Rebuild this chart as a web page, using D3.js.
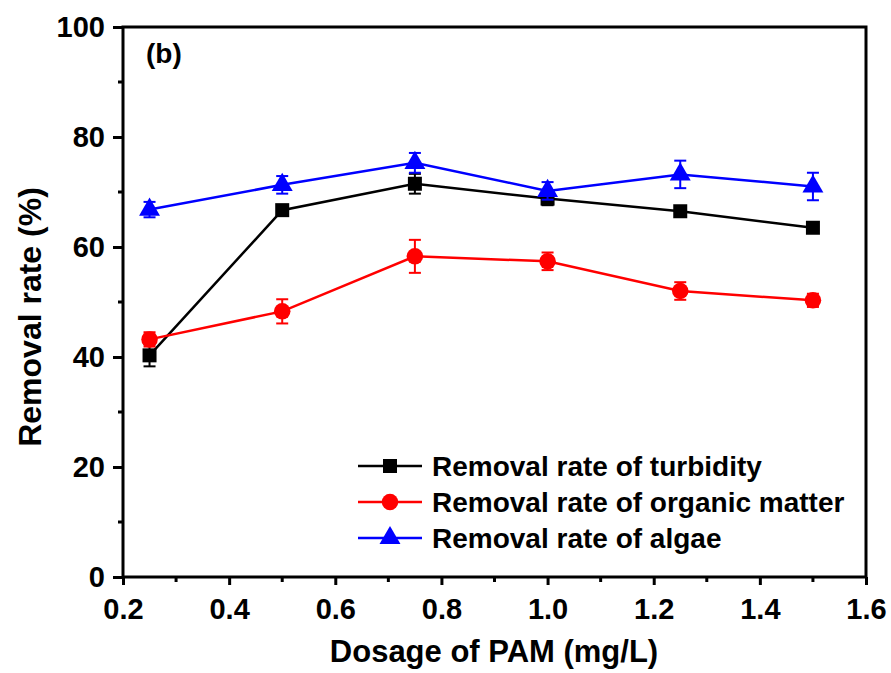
<!DOCTYPE html>
<html>
<head>
<meta charset="utf-8">
<script src="https://cdn.jsdelivr.net/npm/d3@7"></script>
<style>
  body { margin: 0; background: #fff; }
  text { font-family: "Liberation Sans", Arial, sans-serif; font-weight: bold; }
</style>
</head>
<body>
<script>
// data
var dosage = [0.25, 0.5, 0.75, 1.0, 1.25, 1.5];
var turbidity = [40.3, 66.7, 71.5, 68.8, 66.5, 63.5];
var turbidityErr = [2.0, 0.8, 1.8, 1.2, 0.8, 0.6];
var organic = [43.2, 48.3, 58.3, 57.4, 52.0, 50.3];
var organicErr = [1.3, 2.2, 3.0, 1.6, 1.6, 1.2];
var algae = [66.8, 71.3, 75.3, 70.2, 73.2, 71.0];
var algaeErr = [1.4, 1.6, 1.8, 1.6, 2.5, 2.5];
var seriesNames = ["Removal rate of turbidity", "Removal rate of organic matter", "Removal rate of algae"];
var xTicks = [0.2, 0.4, 0.6, 0.8, 1.0, 1.2, 1.4, 1.6];
var yTicks = [0, 20, 40, 60, 80, 100];

var w = 891, h = 673;
var padL = 123, padR = 866, padT = 27, padB = 577;

var svg = d3.select("body").append("svg")
  .attr("width", w)
  .attr("height", h);

var x = d3.scaleLinear().domain([0.2, 1.6]).range([padL, padR]);
var y = d3.scaleLinear().domain([0, 100]).range([padB, padT]);

var series = [
  {name: seriesNames[0], vals: turbidity, err: turbidityErr, color: "#000000", shape: d3.symbolSquare, size: 196},
  {name: seriesNames[1], vals: organic, err: organicErr, color: "#ff0000", shape: d3.symbolCircle, size: 215},
  {name: seriesNames[2], vals: algae, err: algaeErr, color: "#0000ff", shape: d3.symbolTriangle, size: 190}
];

// axes
var xAxis = d3.axisBottom(x).tickValues(xTicks).tickFormat(d3.format(".1f")).tickSize(8).tickPadding(13);
var yAxis = d3.axisLeft(y).tickValues(yTicks).tickFormat(d3.format("d")).tickSize(10).tickPadding(8);

var gx = svg.append("g").attr("transform", "translate(0," + padB + ")").call(xAxis);
var gy = svg.append("g").attr("transform", "translate(" + padL + ",0)").call(yAxis);

// minor ticks
var xMinor = [0.3, 0.5, 0.7, 0.9, 1.1, 1.3, 1.5];
svg.selectAll(".xminor").data(xMinor).enter().append("line")
  .attr("x1", d => x(d)).attr("x2", d => x(d))
  .attr("y1", padB).attr("y2", padB + 5)
  .attr("stroke", "#000").attr("stroke-width", 3);
var yMinor = [10, 30, 50, 70, 90];
svg.selectAll(".yminor").data(yMinor).enter().append("line")
  .attr("x1", padL - 5).attr("x2", padL)
  .attr("y1", d => y(d)).attr("y2", d => y(d))
  .attr("stroke", "#000").attr("stroke-width", 3);

[gx, gy].forEach(function(g) {
  g.attr("font-size", null).attr("font-family", null);
  g.select(".domain").remove();
  g.selectAll(".tick line").attr("stroke", "#000").attr("stroke-width", 3);
  g.selectAll(".tick text").attr("fill", "#000").style("font-size", "29px");
});

// frame
svg.append("rect")
  .attr("x", padL).attr("y", padT)
  .attr("width", padR - padL).attr("height", padB - padT)
  .attr("fill", "none").attr("stroke", "#000").attr("stroke-width", 3);

// axis titles
svg.append("text")
  .attr("x", 494).attr("y", 662)
  .attr("text-anchor", "middle").style("font-size", "31px")
  .text("Dosage of PAM (mg/L)");
svg.append("text")
  .attr("transform", "translate(41,317) rotate(-90)")
  .attr("text-anchor", "middle").style("font-size", "32px")
  .text("Removal rate (%)");

svg.append("text")
  .attr("x", 146).attr("y", 63)
  .style("font-size", "28px")
  .text("(b)");

var line = d3.line().x(d => x(d[0])).y(d => y(d[1]));

series.forEach(function(s) {
  var pts = dosage.map((d, i) => [d, s.vals[i], s.err[i]]);
  var g = svg.append("g");
  g.append("path")
    .attr("d", line(pts))
    .attr("fill", "none").attr("stroke", s.color).attr("stroke-width", 2.5);
  // error bars
  var eb = g.selectAll(".eb").data(pts).enter().append("g").attr("stroke", s.color).attr("stroke-width", 2);
  eb.append("line")
    .attr("x1", d => x(d[0])).attr("x2", d => x(d[0]))
    .attr("y1", d => y(d[1] - d[2])).attr("y2", d => y(d[1] + d[2]));
  eb.append("line")
    .attr("x1", d => x(d[0]) - 6).attr("x2", d => x(d[0]) + 6)
    .attr("y1", d => y(d[1] + d[2])).attr("y2", d => y(d[1] + d[2]));
  eb.append("line")
    .attr("x1", d => x(d[0]) - 6).attr("x2", d => x(d[0]) + 6)
    .attr("y1", d => y(d[1] - d[2])).attr("y2", d => y(d[1] - d[2]));
  g.selectAll(".pt").data(pts).enter().append("path")
    .attr("d", d3.symbol().type(s.shape).size(s.size))
    .attr("transform", d => "translate(" + x(d[0]) + "," + y(d[1]) + ")")
    .attr("fill", s.color);
});

// legend
var legend = svg.append("g");
series.forEach(function(s, i) {
  var ly = 466 + i * 36;
  legend.append("line")
    .attr("x1", 358).attr("x2", 422).attr("y1", ly).attr("y2", ly)
    .attr("stroke", s.color).attr("stroke-width", 2.5);
  legend.append("path")
    .attr("d", d3.symbol().type(s.shape).size(s.size))
    .attr("transform", "translate(390," + ly + ")")
    .attr("fill", s.color);
  legend.append("text")
    .attr("x", 432).attr("y", ly + 10)
    .style("font-size", "28px")
    .text(s.name);
});
</script>
</body>
</html>
